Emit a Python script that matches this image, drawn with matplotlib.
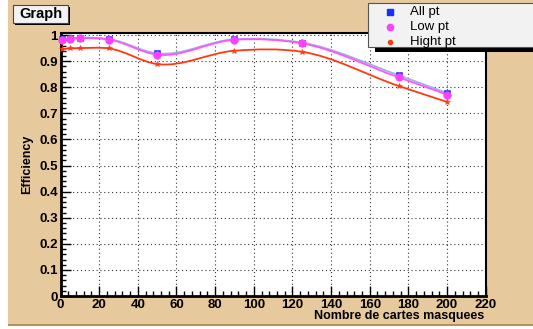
import matplotlib
matplotlib.use("Agg")
import matplotlib.pyplot as plt
import numpy as np
from matplotlib.path import Path
from matplotlib.patches import PathPatch, Rectangle
from matplotlib.ticker import MultipleLocator

# ---- data ----
nb_cartes = [1, 5, 10, 25, 50, 90, 125, 175, 200]
eff_all = [0.984, 0.988, 0.990, 0.985, 0.930, 0.984, 0.971, 0.846, 0.778]
eff_low = [0.982, 0.986, 0.988, 0.983, 0.925, 0.982, 0.968, 0.838, 0.772]
eff_high = [0.946, 0.949, 0.950, 0.949, 0.889, 0.940, 0.936, 0.805, 0.744]
series_names = ["All pt", "Low pt", "Hight pt"]
x_ticks = list(range(0, 221, 20))
y_ticks = [round(0.1 * i, 1) for i in range(11)]

plt.rcParams['font.family'] = ['Liberation Sans', 'DejaVu Sans']

W, H = 533, 329
fig = plt.figure(figsize=(W / 100, H / 100), dpi=100)
fig.patch.set_facecolor('white')

# canvas background (ROOT tan)
tan = '#e6c99d'
fig.patches.append(Rectangle((8 / W, 3 / H), (W - 8) / W, (H - 3) / H,
                             transform=fig.transFigure, facecolor=tan,
                             edgecolor='none', zorder=-10))
fig.patches.append(Rectangle((8 / W, 3 / H), (W - 8) / W, 2 / H,
                             transform=fig.transFigure, facecolor='#b8915a',
                             edgecolor='none', zorder=-9))

x0, x1 = 60.5, 485.7
ytop, ybot = 33.0, 296.1
ax = fig.add_axes([x0 / W, (H - ybot) / H, (x1 - x0) / W, (ybot - ytop) / H])
ax.set_facecolor('white')
ax.set_xlim(0, 220)
ax.set_ylim(0, 1.008)

ax.xaxis.set_minor_locator(MultipleLocator(4))
ax.yaxis.set_minor_locator(MultipleLocator(0.02))
ax.set_xticks(x_ticks)
ax.set_yticks(y_ticks)
ax.set_xticklabels([str(v) for v in x_ticks])
ax.set_yticklabels(['0'] + [('%g' % v) for v in y_ticks[1:]])
ax.tick_params(which='both', direction='in', top=False, right=False,
               labelsize=9.5, pad=2, colors='black')
ax.tick_params(which='major', length=7, width=1)
ax.tick_params(which='minor', length=3.5, width=1)
for lab in ax.get_xticklabels() + ax.get_yticklabels():
    lab.set_fontweight('bold')
ax.grid(True, which='major', linestyle=(0, (1, 2.5)), color='#333333', linewidth=0.8)
for s in ['left', 'bottom']:
    ax.spines[s].set_linewidth(2)
for s in ['top', 'right']:
    ax.spines[s].set_linewidth(1.5)

def smooth_path(xs, ys):
    xs = np.asarray(xs, float)
    ys = np.asarray(ys, float)
    n = len(xs)
    h = np.diff(xs)
    d = np.diff(ys) / h
    m = np.zeros(n)
    m[0] = d[0]
    m[-1] = d[-1]
    for i in range(1, n - 1):
        m[i] = (d[i - 1] * h[i] + d[i] * h[i - 1]) / (h[i - 1] + h[i])
    verts = [(xs[0], ys[0])]
    codes = [Path.MOVETO]
    for i in range(n - 1):
        verts += [(xs[i] + h[i] / 3, ys[i] + m[i] * h[i] / 3),
                  (xs[i + 1] - h[i] / 3, ys[i + 1] - m[i + 1] * h[i] / 3),
                  (xs[i + 1], ys[i + 1])]
        codes += [Path.CURVE4] * 3
    return Path(verts, codes)

line_cols = ['#9fb0e0', '#ff55ff', '#ff3a12']
mk_cols = ['#1530ff', '#ff40ff', '#ff3a12']
markers = ['s', 'o', '*']
msizes = [4.5, 5.5, 3.8]
handles = []
for ys, lc, mc, mk, ms, name in zip([eff_all, eff_low, eff_high], line_cols,
                                    mk_cols, markers, msizes, series_names):
    ax.add_patch(PathPatch(smooth_path(nb_cartes, ys), facecolor='none',
                           edgecolor=lc, linewidth=1.3, zorder=3))
    hdl, = ax.plot(nb_cartes, ys, linestyle='none', marker=mk, markersize=ms,
                   color=mc, markeredgewidth=0.4, zorder=4, clip_on=False,
                   label=name)
    handles.append(hdl)

# axis titles
fig.text(27.5 / W, 1 - 164 / H, 'Efficiency', rotation=90, ha='center',
         va='center', fontsize=9, fontweight='bold')
fig.text(484 / W, 1 - 316 / H, 'Nombre de cartes masquees', ha='right',
         va='center', fontsize=9, fontweight='bold')

# title box "Graph" with shadow
fig.patches.append(Rectangle((15 / W, 1 - 25 / H), 55 / W, 18 / H,
                             transform=fig.transFigure, facecolor='black',
                             edgecolor='none', zorder=5))
fig.patches.append(Rectangle((13 / W, 1 - 23 / H), 55 / W, 18 / H,
                             transform=fig.transFigure, facecolor='#f3f3f3',
                             edgecolor='#444444', linewidth=0.8, zorder=6))
fig.text(40.5 / W, 1 - 14 / H, 'Graph', ha='center', va='center',
         fontsize=10.5, fontweight='bold', zorder=7)

# legend box with shadow
fig.patches.append(Rectangle((375 / W, 1 - 52 / H), 160 / W, 8 / H,
                             transform=fig.transFigure, facecolor='black',
                             edgecolor='none', zorder=5))
fig.patches.append(Rectangle((368 / W, 1 - 47 / H), 170 / W, 44 / H,
                             transform=fig.transFigure, facecolor='#f2f2f2',
                             edgecolor='#555555', linewidth=0.8, zorder=6))
leg_sizes = [4, 4.5, 3]
leg_marks = ['s', 'o', 'o']
for i, (mc, mk, ms, name) in enumerate(zip(mk_cols, leg_marks, leg_sizes, series_names)):
    yy = 1 - (12 + 15 * i) / H
    fig.lines.append(plt.Line2D([390 / W], [yy], transform=fig.transFigure,
                                marker=mk, markersize=ms, color=mc,
                                linestyle='none', zorder=7))
    fig.text(410 / W, yy, name, ha='left', va='center', fontsize=9.5, zorder=7)

fig.savefig('out.png', dpi=100, facecolor=fig.get_facecolor())
